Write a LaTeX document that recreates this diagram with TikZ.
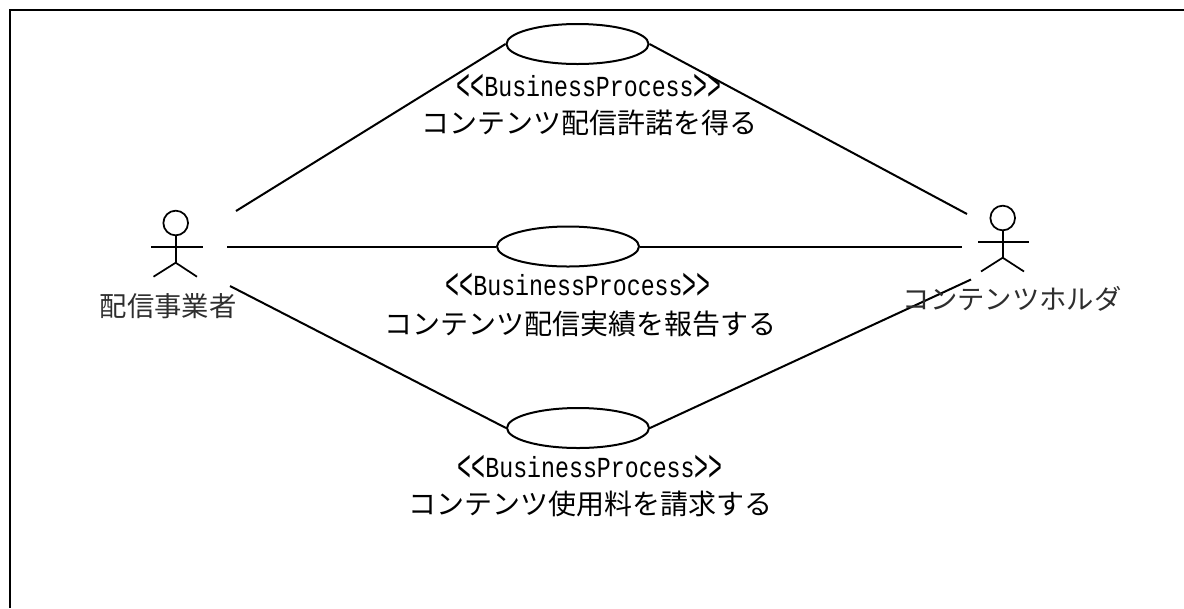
\documentclass[tikz,border=0pt]{standalone}
\usepackage{fontspec}
\usepackage{graphicx}
\newfontfamily\jpfont{Noto Sans CJK JP}
\newfontfamily\latinmono[FakeStretch=0.8]{Liberation Mono}
\newcommand{\tallangle}[1]{\raisebox{-0.13em}{\scalebox{1}[1.55]{#1}}}
\newcommand{\bizproc}{\tallangle{<}\tallangle{<}BusinessProcess\tallangle{>}\tallangle{>}}
\tikzset{
  usecase/.style={draw,line width=1.5pt,ellipse,minimum width=106.5pt,minimum height=30pt,inner sep=0pt},
  assoc/.style={line width=1.5pt},
  stereo/.style={inner sep=0pt,font=\latinmono\fontsize{21.8pt}{21.8pt}\selectfont},
  title/.style={inner sep=0pt,font=\jpfont\fontsize{21pt}{21pt}\selectfont},
  actorlabel/.style={inner sep=0pt,text=black!82,font=\jpfont\fontsize{20.5pt}{20.5pt}\selectfont},
  limb/.style={line width=1.3pt},
  head/.style={draw,line width=1.3pt,circle,minimum size=18.5pt,inner sep=0pt}
}
\usetikzlibrary{shapes.geometric}
\begin{document}
\begin{tikzpicture}[x=0.75pt,y=-0.75pt]
\useasboundingbox (0,0) rectangle (1184,608);
\draw[line width=1.6pt] (10,608) |- (1184,10);
% use cases
\node[usecase] (u1) at (577.5,44) {};
\node[usecase] (u2) at (568,246.5) {};
\node[usecase] (u3) at (578,428) {};
% actor 1
\node[head] (h1) at (175.7,223) {};
\coordinate (a1arml) at (151,246.7);
\coordinate (a1armr) at (202.5,246.7);
\coordinate (a1hip) at (175.7,262.7);
\coordinate (a1legl) at (153.5,276.7);
\coordinate (a1legr) at (197,276.7);
\draw[limb] (h1.south) -- (a1hip);
\draw[limb] (a1arml) -- (a1armr);
\draw[limb] (a1legl) -- (a1hip) -- (a1legr);
% actor 2
\node[head] (h2) at (1002.7,218) {};
\coordinate (a2arml) at (978,242);
\coordinate (a2armr) at (1029,242);
\coordinate (a2hip) at (1002.7,257.7);
\coordinate (a2legl) at (981,271.5);
\coordinate (a2legr) at (1024,271.5);
\draw[limb] (h2.south) -- (a2hip);
\draw[limb] (a2arml) -- (a2armr);
\draw[limb] (a2legl) -- (a2hip) -- (a2legr);
% free ends
\coordinate (l1) at (236,211);
\coordinate (l2) at (227,246.5);
\coordinate (l3) at (230,286);
\coordinate (r1) at (967,214);
\coordinate (r2) at (962,246.5);
\coordinate (r3) at (971,279.5);
\draw[assoc] (l1) -- (u1.west);
\draw[assoc] (l2) -- (u2.west);
\draw[assoc] (l3) -- (u3.west);
\draw[assoc] (u1.east) -- (r1);
\draw[assoc] (u2.east) -- (r2);
\draw[assoc] (u3.east) -- (r3);
% labels
\node[stereo] (s1) at (589,87) {\bizproc};
\node[title] (t1) at (589,123) {コンテンツ配信許諾を得る};
\node[stereo] (s2) at (578,286) {\bizproc};
\node[title] (t2) at (580,324) {コンテンツ配信実績を報告する};
\node[stereo] (s3) at (590,468) {\bizproc};
\node[title] (t3) at (590,504) {コンテンツ使用料を請求する};
\node[actorlabel] (n1) at (168,306) {配信事業者};
\node[actorlabel] (n2) at (1012,299) {コンテンツホルダ};
\end{tikzpicture}
\end{document}
